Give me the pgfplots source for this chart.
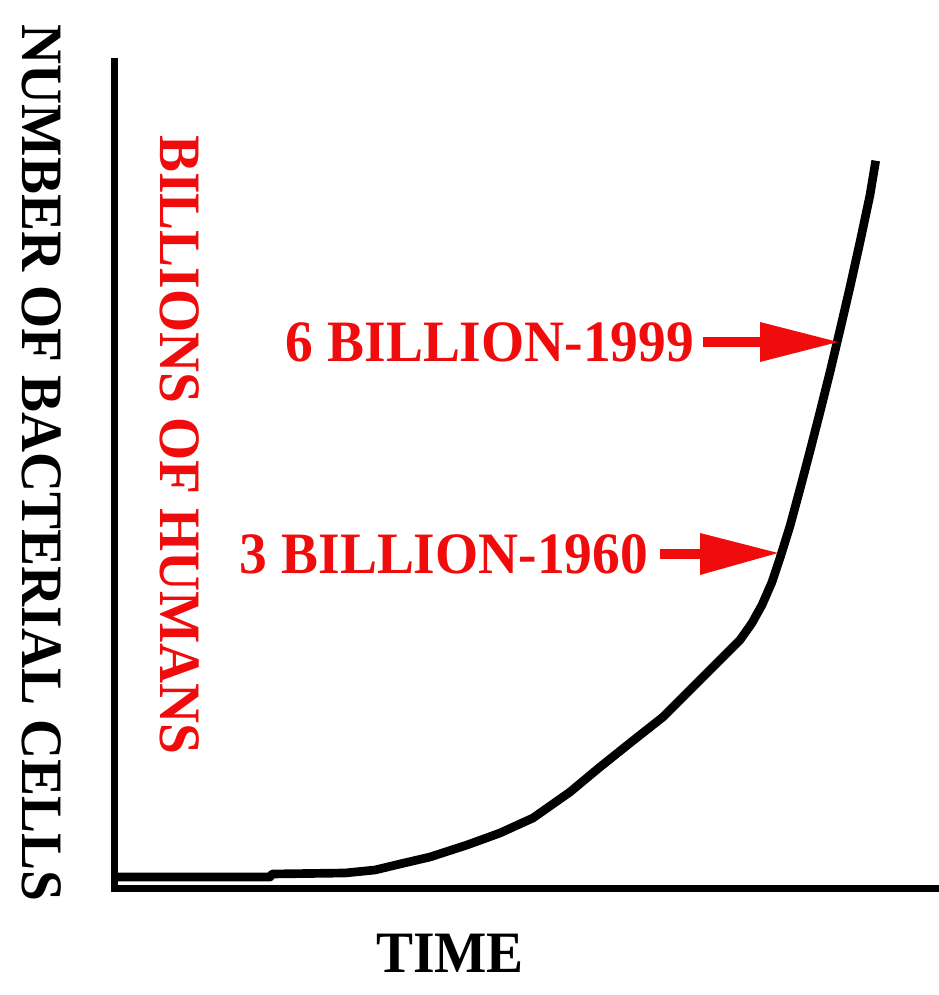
\documentclass[border=0pt]{standalone}
\usepackage{graphicx}
\usepackage{pgfplots}
\pgfplotsset{compat=1.18}
\usepackage{fontspec}
\setmainfont{Liberation Serif}
\definecolor{redann}{RGB}{240,12,12}
\newcommand{\lbl}[1]{\scalebox{0.945}[1]{\bfseries\fontsize{44}{50}\selectfont #1}}
\begin{document}
\begin{tikzpicture}
\begin{axis}[
  x=0.75pt, y=0.75pt,
  xmin=115, xmax=938, ymin=107, ymax=933,
  axis lines*=left,
  axis line style={line width=5.25pt, line cap=rect},
  xtick=\empty, ytick=\empty,
  clip=false, enlargelimits=false,
]
\addplot[black, line width=6.5pt, line join=round, line cap=rect] coordinates {
(118,118) (270,118) (272,121) (345,122) (375,125) (400,131) (430,138)
(467,150) (500,162) (533,177) (570,203) (600,228) (630,252) (663,278)
(690,305) (713,328) (740,355) (752,372) (762,390) (772,413) (780,437)
(790,469) (800,506) (810,544) (820,583) (830,623) (840,665) (850,708)
(860,753) (870,800) (875,830)
};
% arrows
\fill[redann] (axis cs:703,648) rectangle (axis cs:765,658);
\fill[redann] (axis cs:760,673) -- (axis cs:838,653) -- (axis cs:760,633) -- cycle;
\fill[redann] (axis cs:660,436) rectangle (axis cs:703,446);
\fill[redann] (axis cs:700,462) -- (axis cs:778,442) -- (axis cs:700,420) -- cycle;
% labels
\node[text=redann, inner sep=0pt] at (axis cs:490,653) {\lbl{6 BILLION-1999}};
\node[text=redann, inner sep=0pt] at (axis cs:444,441) {\lbl{3 BILLION-1960}};
\node[inner sep=0pt] at (axis cs:450,42) {\lbl{TIME}};
\node[inner sep=0pt, rotate=-90] at (axis cs:42,532) {\lbl{NUMBER OF BACTERIAL CELLS}};
\node[text=redann, inner sep=0pt, rotate=-90] at (axis cs:180,550) {\lbl{BILLIONS OF HUMANS}};
\coordinate (bl) at (axis cs:0,0);
\coordinate (tr) at (axis cs:938,995);
\end{axis}
\pgfresetboundingbox
\useasboundingbox (bl) rectangle (tr);
\end{tikzpicture}
\end{document}
